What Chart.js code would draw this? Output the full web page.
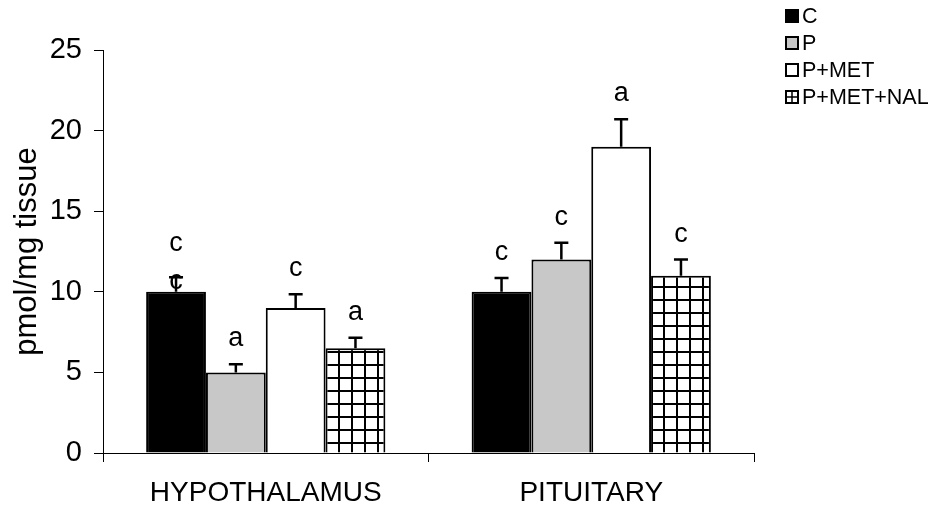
<!DOCTYPE html>
<html><head><meta charset="utf-8">
<script src="https://cdn.jsdelivr.net/npm/chart.js@4/dist/chart.umd.min.js"></script>
<style>html,body{margin:0;padding:0;background:#fff}#wrap{width:936px;height:507px;position:relative}</style>
</head><body><div id="wrap"><canvas id="c"></canvas></div>
<script>
const categories = ['HYPOTHALAMUS', 'PITUITARY'];
const seriesNames = ['C', 'P', 'P+MET', 'P+MET+NAL'];
const valuesC = [10, 10];
const valuesP = [5, 12];
const valuesPMET = [9, 19];
const valuesPMETNAL = [6.5, 11];
const errorsC = [0.9, 0.85];
const errorsP = [0.5, 1.05];
const errorsPMET = [0.85, 1.7];
const errorsPMETNAL = [0.65, 1.0];
const lettersC = [['c', 'c'], ['c']];
const lettersP = [['a'], ['c']];
const lettersPMET = [['c'], ['a']];
const lettersPMETNAL = [['a'], ['c']];
const yTicks = [0, 5, 10, 15, 20, 25];

const FONT = '"Liberation Sans", Arial, sans-serif';

function gridPattern(size) {
  const c = document.createElement('canvas');
  c.width = size; c.height = size;
  const g = c.getContext('2d');
  g.fillStyle = '#fff'; g.fillRect(0, 0, size, size);
  g.fillStyle = '#000';
  g.fillRect(0, 0, 2, size);
  g.fillRect(0, 0, size, 2);
  return g.createPattern(c, 'repeat');
}
const ctx = document.getElementById('c').getContext('2d');
const pat = gridPattern(13);

const fills = ['#000000', '#c8c8c8', '#ffffff', pat];
const allValues = [valuesC, valuesP, valuesPMET, valuesPMETNAL];
const allErrors = [errorsC, errorsP, errorsPMET, errorsPMETNAL];
const allLetters = [lettersC, lettersP, lettersPMET, lettersPMETNAL];

const datasets = seriesNames.map((n, i) => ({
  label: n,
  data: allValues[i],
  errors: allErrors[i],
  letters: allLetters[i],
  backgroundColor: fills[i],
  borderColor: '#000',
  borderWidth: 2,
  borderSkipped: 'bottom'
}));

const extras = {
  id: 'extras',
  afterDatasetsDraw(chart) {
    const c = chart.ctx;
    const ys = chart.scales.y;
    c.save();
    chart.data.datasets.forEach((ds, di) => {
      const meta = chart.getDatasetMeta(di);
      meta.data.forEach((el, j) => {
        const v = ds.data[j], e = ds.errors[j];
        const yTop = el.y;
        const yErr = ys.getPixelForValue(v + e);
        c.strokeStyle = '#000';
        c.lineWidth = 2.5;
        c.beginPath();
        c.moveTo(el.x, yTop); c.lineTo(el.x, yErr);
        c.moveTo(el.x - 7, yErr); c.lineTo(el.x + 7, yErr);
        c.stroke();
        c.fillStyle = '#000';
        c.font = '27px ' + FONT;
        c.textAlign = 'center';
        c.textBaseline = 'alphabetic';
        const L = ds.letters[j];
        if (L.length > 1) {
          c.fillText(L[0], el.x, yErr - 26);
          c.fillText(L[1], el.x, yErr + 12);
        } else {
          c.fillText(L[0], el.x, yErr - 18);
        }
      });
    });
    c.restore();
  },
  afterDraw(chart) {
    const c = chart.ctx;
    c.save();
    const bx = 785, bs = 14, rowY = [16, 43, 70, 97];
    chart.data.datasets.forEach((ds, i) => {
      const cy = rowY[i];
      const x0 = bx, y0 = cy - bs / 2;
      c.fillStyle = i === 0 ? '#000' : (i === 1 ? '#c8c8c8' : '#fff');
      c.fillRect(x0, y0, bs, bs);
      c.strokeStyle = '#000';
      c.lineWidth = 2;
      c.strokeRect(x0 + 1, y0 + 1, bs - 2, bs - 2);
      if (i === 3) {
        c.lineWidth = 1.5;
        c.beginPath();
        c.moveTo(x0 + bs / 2, y0); c.lineTo(x0 + bs / 2, y0 + bs);
        c.moveTo(x0, y0 + bs / 2); c.lineTo(x0 + bs, y0 + bs / 2);
        c.stroke();
      }
      c.fillStyle = '#000';
      c.font = '21.5px ' + FONT;
      c.textAlign = 'left';
      c.textBaseline = 'middle';
      c.fillText(ds.label, bx + bs + 3, cy + 1);
    });
    c.restore();
  }
};

new Chart(ctx, {
  type: 'bar',
  data: { labels: categories, datasets },
  options: {
    responsive: true,
    maintainAspectRatio: false,
    animation: false,
    events: [],
    layout: { padding: { left: 0, top: 50, right: 182, bottom: 0 } },
    datasets: { bar: { categoryPercentage: 0.735, barPercentage: 1.0 } },
    plugins: { legend: { display: false }, tooltip: { enabled: false } },
    scales: {
      x: {
        afterFit(s) { s.height = 54; },
        grid: { drawOnChartArea: false, tickLength: 9, color: '#000', offset: true, tickWidth: 1 },
        border: { color: '#000', width: 1 },
        ticks: { color: '#000', font: { family: FONT, size: 28 }, padding: 14, maxRotation: 0 }
      },
      y: {
        min: 0, max: 25,
        afterFit(s) { s.width = 103; },
        afterBuildTicks(s) { s.ticks = yTicks.map(v => ({ value: v })); },
        grid: { drawOnChartArea: false, tickLength: 9, color: '#000', tickWidth: 1 },
        border: { color: '#000', width: 1 },
        ticks: { color: '#000', font: { family: FONT, size: 29 }, padding: 12 },
        title: { display: true, text: 'pmol/mg tissue', color: '#000', font: { family: FONT, size: 31 }, padding: { top: 9, bottom: 0 } }
      }
    }
  },
  plugins: [extras]
});
</script></body></html>
